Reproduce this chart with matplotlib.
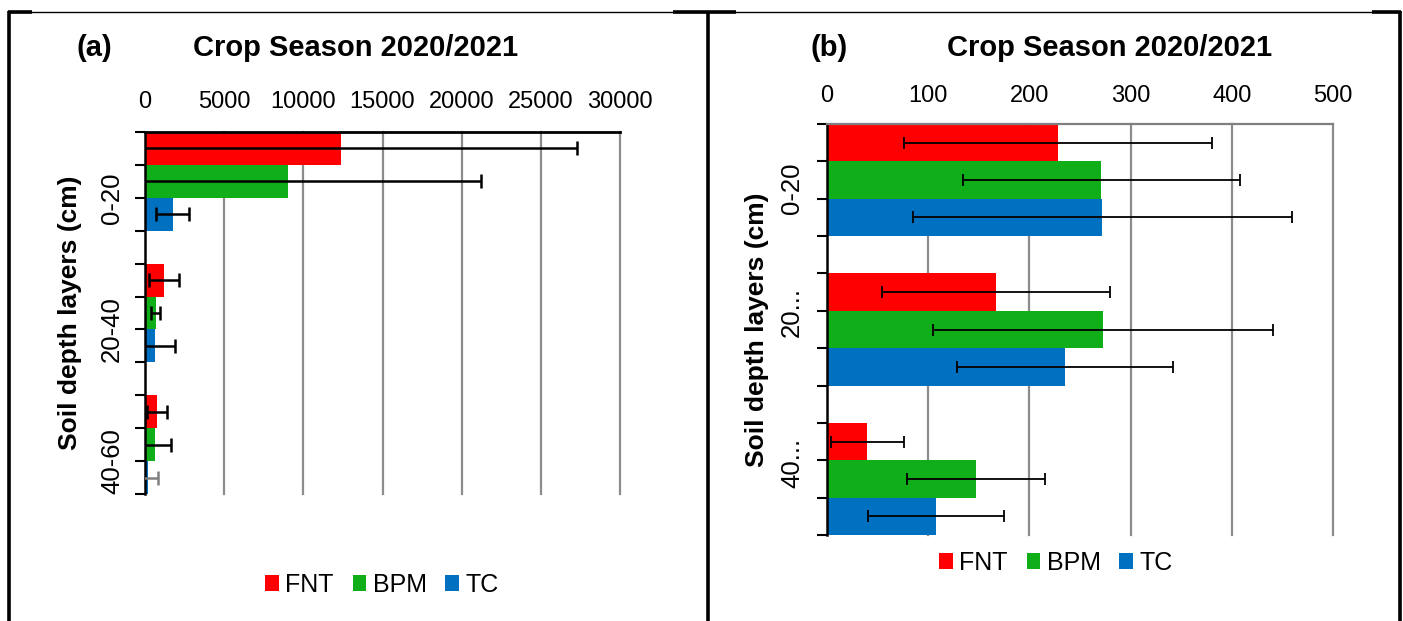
import matplotlib
matplotlib.use("Agg")
import matplotlib.pyplot as plt
from matplotlib.lines import Line2D
from matplotlib.patches import Patch

plt.rcParams['font.family'] = ['Liberation Sans', 'DejaVu Sans']

W, H = 1403, 621

# ---------------- data ----------------
categories = ["0-20", "20-40", "40-60"]
categories_b = ["0-20", "20...", "40..."]
series = ["FNT", "BPM", "TC"]
colors = ["#FF0000", "#10AE18", "#0070C0"]

a_fnt = [12400, 1200, 750]
a_bpm = [9000, 675, 625]
a_tc = [1750, 625, 175]
a_fnt_err = [14900, 960, 625]
a_bpm_err = [12250, 300, 1000]
a_tc_err = [1050, 1250, 650]

b_fnt = [228, 167, 40]
b_bpm = [271, 273, 147]
b_tc = [272, 235, 108]
b_fnt_err = [152, 113, 36]
b_bpm_err = [137, 168, 68]
b_tc_err = [187, 107, 67]

a_ticks = [0, 5000, 10000, 15000, 20000, 25000, 30000]
b_ticks = [0, 100, 200, 300, 400, 500]

title = "Crop Season 2020/2021"
ylabel = "Soil depth layers (cm)"

fig = plt.figure(figsize=(W / 100, H / 100), dpi=100)


def px_axes(l, t, r, b):
    return fig.add_axes([l / W, 1 - b / H, (r - l) / W, (b - t) / H])


def fx(x):
    return x / W


def fy(y):
    return 1 - y / H


def draw_panel(ax, vals, errs, ticks, cats, label_pos, top_color, top_lw,
               elw, cap, ecolors, tick_pad, ylab_pad):
    nslots = 4 * len(cats) - 1
    for j, (v, e, c) in enumerate(zip(vals, errs, colors)):
        ypos = [i * 4 + j + 0.5 for i in range(len(cats))]
        ax.barh(ypos, v, height=1.0, color=c, zorder=2)
        for k, (yy, vv, ee) in enumerate(zip(ypos, v, e)):
            ax.errorbar(vv, yy, xerr=ee, fmt='none', ecolor=ecolors[j][k],
                        elinewidth=elw, capsize=cap, capthick=elw, zorder=3)
    ax.set_xlim(ticks[0], ticks[-1])
    ax.set_ylim(nslots, 0)
    for t in ticks[1:]:
        ax.axvline(t, color='#8C8C8C', lw=1.6, zorder=1, clip_on=False)
    ax.xaxis.tick_top()
    ax.set_xticks(ticks)
    ax.set_xticklabels([str(t) for t in ticks], fontsize=17)
    ax.tick_params(axis='x', length=0, pad=tick_pad)
    ax.yaxis.remove_overlapping_locs = False
    ax.set_yticks(range(nslots + 1))
    ax.set_yticklabels([])
    ax.tick_params(axis='y', which='major', length=7, width=1.5,
                   direction='out', color='black')
    ax.set_yticks(label_pos, minor=True)
    ax.set_yticklabels(cats, minor=True, fontsize=18.5, rotation=90,
                       va='center')
    ax.tick_params(axis='y', which='minor', length=0, pad=ylab_pad)
    for s in ['right', 'bottom']:
        ax.spines[s].set_visible(False)
    ax.spines['left'].set_color('black')
    ax.spines['left'].set_linewidth(1.8)
    ax.spines['top'].set_color(top_color)
    ax.spines['top'].set_linewidth(top_lw)
    ax.set_facecolor('none')


# ---- panel (a) ----
axa = px_axes(145, 132, 620, 494)
a_ecol = [["black"] * 3, ["black"] * 3, ["black", "black", "#808080"]]
draw_panel(axa, [a_fnt, a_bpm, a_tc], [a_fnt_err, a_bpm_err, a_tc_err],
           a_ticks, categories, [2, 6, 10], 'black', 2.0, 1.8, 5,
           a_ecol, 13.5, 15)

# ---- panel (b) ----
axb = px_axes(827, 124, 1333, 535)
b_ecol = [["black"] * 3] * 3
draw_panel(axb, [b_fnt, b_bpm, b_tc], [b_fnt_err, b_bpm_err, b_tc_err],
           b_ticks, categories_b, [1.72, 5.04, 9.06], '#7F7F7F', 1.6, 1.3, 4,
           b_ecol, 12, 16.5)

# ---- titles and labels ----
fig.text(fx(77), fy(48), "(a)", fontsize=21, fontweight='bold',
         ha='left', va='center')
fig.text(fx(356), fy(48), title, fontsize=21, fontweight='bold',
         ha='center', va='center')
fig.text(fx(811), fy(48), "(b)", fontsize=21, fontweight='bold',
         ha='left', va='center')
fig.text(fx(1110), fy(48), title, fontsize=21, fontweight='bold',
         ha='center', va='center')
fig.text(fx(70), fy(313), ylabel, fontsize=19, fontweight='bold',
         rotation=90, ha='center', va='center')
fig.text(fx(757), fy(330), ylabel, fontsize=19, fontweight='bold',
         rotation=90, ha='center', va='center')

# ---- legends ----
handles = [Patch(facecolor=c, edgecolor='none', label=s)
           for s, c in zip(series, colors)]
for cx, cy in [(382, 585), (1056, 563)]:
    fig.legend(handles=handles, loc='center',
               bbox_to_anchor=(fx(cx), fy(cy)), ncol=3, frameon=False,
               fontsize=18, handlelength=0.55, handleheight=0.6,
               handletextpad=0.25, columnspacing=0.75, borderaxespad=0)

# ---- table borders ----
def fline(x0, y0, x1, y1, lw):
    fig.add_artist(Line2D([fx(x0), fx(x1)], [fy(y0), fy(y1)],
                          transform=fig.transFigure, color='black', lw=lw,
                          solid_capstyle='butt'))

fline(8, 11.5, 1401, 11.5, 1.0)
fline(8, 11.5, 32, 11.5, 2.6)
fline(673, 11.5, 736, 11.5, 2.6)
fline(1372, 11.5, 1401, 11.5, 2.6)
fline(9, 11, 9, 621, 2.6)
fline(708, 11, 708, 621, 2.6)
fline(1400, 11, 1400, 621, 2.6)

fig.savefig("out.png", dpi=100)
